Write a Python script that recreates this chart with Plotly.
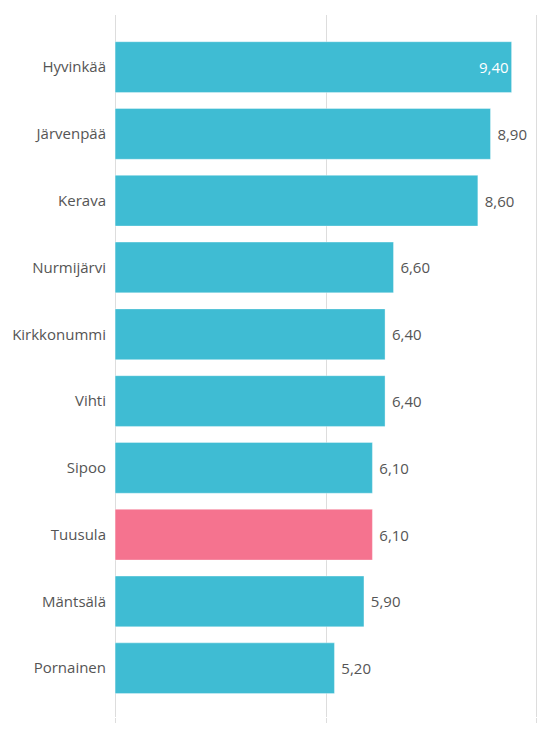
"""Horizontal bar chart of municipality values."""

import plotly.graph_objects as go

municipalities = [
    "Hyvinkää",
    "Järvenpää",
    "Kerava",
    "Nurmijärvi",
    "Kirkkonummi",
    "Vihti",
    "Sipoo",
    "Tuusula",
    "Mäntsälä",
    "Pornainen",
]
values = [9.40, 8.90, 8.60, 6.60, 6.40, 6.40, 6.10, 6.10, 5.90, 5.20]
x_ticks = [0, 5, 10]

highlight = "Tuusula"
base_color = "#3fbcd3"
highlight_color = "#f5738f"

colors = [highlight_color if m == highlight else base_color for m in municipalities]
# the longest bar carries its label inside
positions = ["inside" if v == max(values) else "outside" for v in values]
labels = [f"{v:.2f}".replace(".", ",") for v in values]
labels = [lab if pos == "inside" else " " + lab for lab, pos in zip(labels, positions)]

fig = go.Figure()

fig.add_trace(
    go.Bar(
        x=values,
        y=municipalities,
        orientation="h",
        marker={"color": colors, "line": {"color": "rgba(255,255,255,0.35)", "width": 1}},
        text=labels,
        textposition=positions,
        insidetextanchor="end",
        insidetextfont={"color": "white", "size": 15},
        outsidetextfont={"color": "#555555", "size": 15},
        cliponaxis=False,
        hoverinfo="skip",
    )
)

# page body adds an 8px offset, margins compensate for it
fig.update_layout(
    width=550,
    height=735,
    margin={"l": 105, "r": 19, "t": 7, "b": 26},
    plot_bgcolor="white",
    paper_bgcolor="white",
    bargap=0.24,
    showlegend=False,
    font={"family": "Open Sans, sans-serif", "size": 15, "color": "#555555"},
    xaxis={
        # a hair of padding so the 0 and 10 grid lines are drawn
        "range": [-0.05, 10.05],
        "tickvals": x_ticks,
        "automargin": False,
        "showgrid": True,
        "gridcolor": "#dddddd",
        "gridwidth": 1,
        "zeroline": False,
        "showline": False,
        "ticks": "outside",
        "ticklen": 5,
        "tickcolor": "#dddddd",
        "ticklabelstandoff": 6,
        "tickfont": {"size": 15, "color": "#555555"},
    },
    yaxis={
        "categoryorder": "array",
        "categoryarray": municipalities,
        "range": [len(municipalities) - 0.27, -0.78],
        "automargin": False,
        "showgrid": False,
        "zeroline": False,
        "showline": False,
        "ticks": "outside",
        "ticklen": 3,
        "tickcolor": "rgba(0,0,0,0)",
        "tickfont": {"size": 15, "color": "#555555"},
    },
)

fig.write_html("out.html")
